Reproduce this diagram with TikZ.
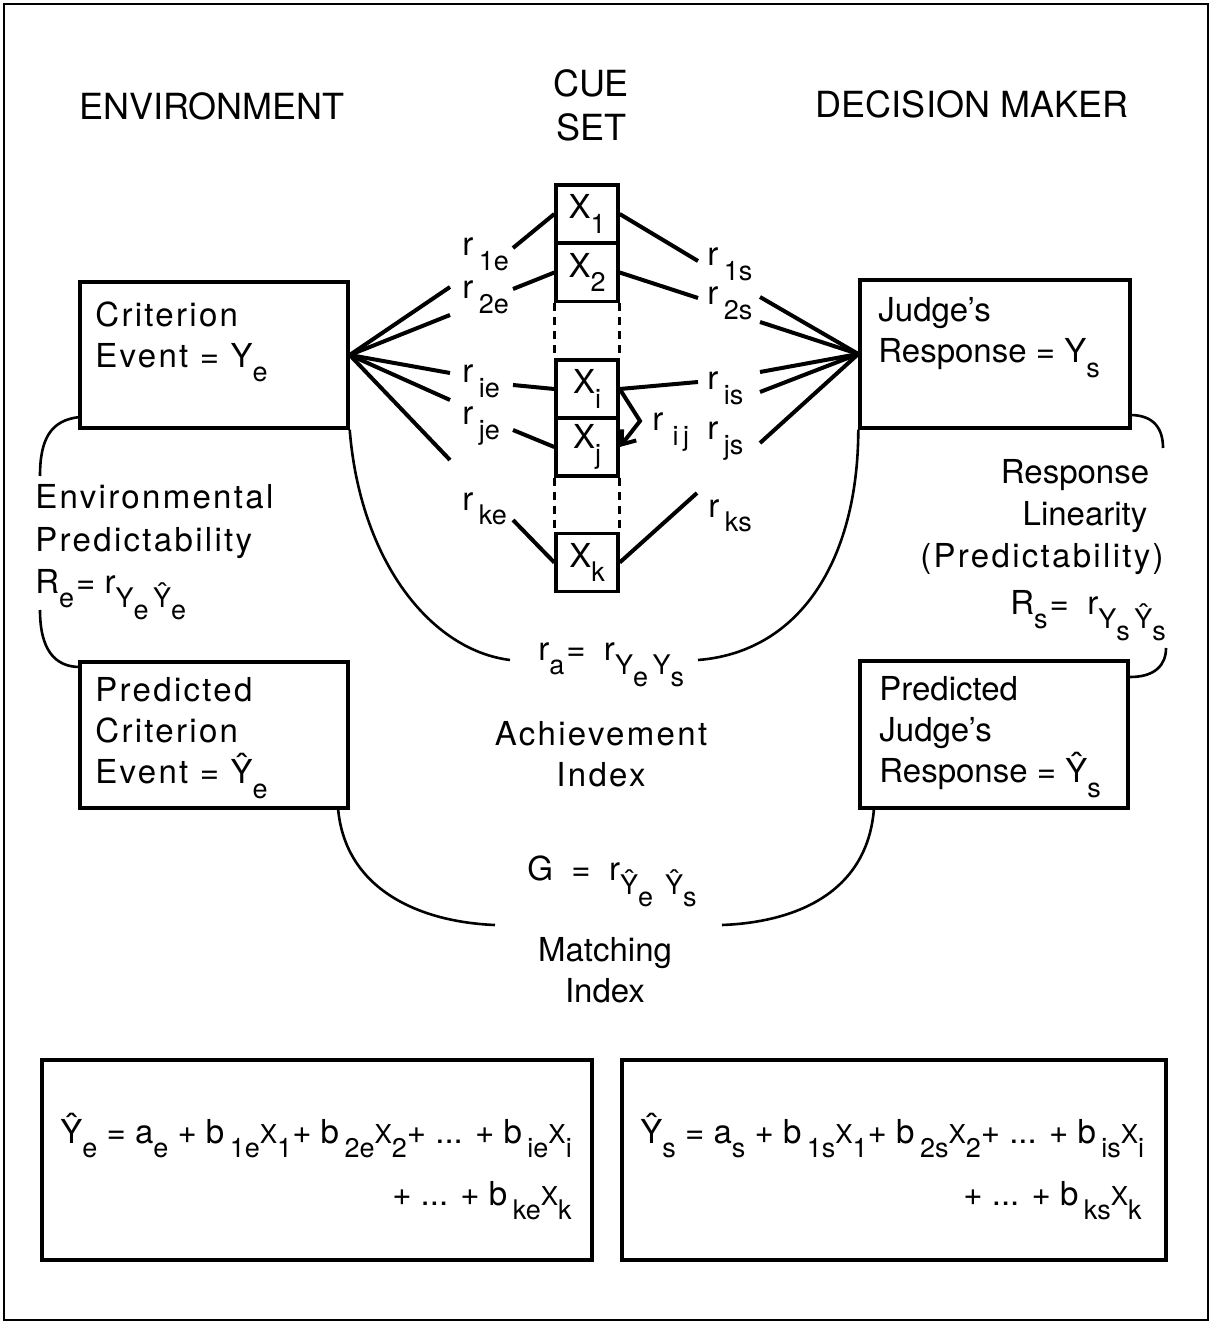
\documentclass[tikz,border=0pt]{standalone}
\usepackage{fontspec}
\setmainfont{TeX Gyre Heros}
\newfontfamily\widefont[LetterSpace=7]{TeX Gyre Heros}
\usetikzlibrary{arrows.meta}

\newcommand{\bigf}{\fontsize{16.5}{20.5}\selectfont}
\newcommand{\headf}{\fontsize{18}{22}\selectfont}
\newcommand{\lo}[1]{\raisebox{-0.85ex}{\fontsize{13.5}{13.5}\selectfont #1}}
\newcommand{\rsub}[1]{r\,\lo{#1}}
\newcommand{\sx}{{\fontsize{13}{13}\selectfont X}}

\begin{document}
\begin{tikzpicture}[x=0.5pt,y=-0.5pt,
  box/.style={draw, line width=1.7pt, inner sep=0pt},
  cuebox/.style={draw, line width=1.7pt, minimum width=31pt, minimum height=29pt, inner sep=0pt, font=\bigf},
  fan/.style={line width=2pt},
  arcline/.style={line width=1.3pt},
  lbl/.style={inner sep=0pt, font=\bigf, anchor=base west},
  head/.style={inner sep=0pt, font=\headf},
  txt/.style={inner sep=0pt, font=\bigf\widefont, align=left, anchor=north west},
]
\useasboundingbox (0,0) rectangle (1213,1325);
\node[draw, line width=1.1pt, minimum width=602pt, minimum height=658pt, inner sep=0pt] (frame) at (606,662) {};

% headings
\node[head] (env) at (212,106) {ENVIRONMENT};
\node[head, align=center] (cueset) at (591,105) {CUE\\SET};
\node[head] (dm) at (972,104) {DECISION MAKER};

% boxes
\node[box, minimum width=134pt, minimum height=73pt] (crit) at (214,355) {};
\node[txt] (crittext) at (95,301) {Criterion\\Event = Y\lo{e}};
\node[box, minimum width=135pt, minimum height=74pt] (judge) at (995,354) {};
\node[txt, font=\bigf] (judgetext) at (878,297) {Judge's\\Response = Y\lo{s}};
\node[box, minimum width=134pt, minimum height=73pt] (pcrit) at (214,735) {};
\node[txt] (pcrittext) at (95,677) {Predicted\\Criterion\\Event = Ŷ\lo{e}};
\node[box, minimum width=134pt, minimum height=73.5pt] (pjudge) at (994,734.5) {};
\node[txt, font=\bigf] (pjudgetext) at (879,676) {Predicted\\Judge's\\Response = Ŷ\lo{s}};

% cue set
\node[cuebox] (x1) at (587,214) {X\lo{1}};
\node[cuebox] (x2) at (587,272.5) {X\lo{2}};
\node[cuebox] (xi) at (587,389) {X\lo{i}};
\node[cuebox] (xj) at (587,447) {X\lo{j}};
\node[cuebox] (xk) at (587,562.5) {X\lo{k}};
\foreach \a/\b in {x2/xi,xj/xk}{
  \draw[line width=1.6pt, dash pattern=on 4pt off 3pt] (\a.south west) -- (\b.north west);
  \draw[line width=1.6pt, dash pattern=on 4pt off 3pt] (\a.south east) -- (\b.north east);
}

% lens labels
\node[lbl] (r1e) at (462,256) {\rsub{1e}};
\node[lbl] (r2e) at (462,299) {\rsub{2e}};
\node[lbl] (rie) at (462,383) {\rsub{ie}};
\node[lbl] (rje) at (462,425) {\rsub{je}};
\node[lbl] (rke) at (462,510) {\rsub{ke}};
\node[lbl] (r1s) at (707,266) {\rsub{1s}};
\node[lbl] (r2s) at (707,305) {\rsub{2s}};
\node[lbl] (ris) at (707,390) {\rsub{is}};
\node[lbl] (rjs) at (707,440) {\rsub{js}};
\node[lbl] (rks) at (708,517) {\rsub{ks}};
\node[lbl] (rij) at (652,431) {r\;\lo{i\,j}};

\coordinate (cl1) at (450,287);
\coordinate (cl2) at (450,315);
\coordinate (cl3) at (450,373);
\coordinate (cl4) at (450,400);
\coordinate (cl5) at (450,460);
\coordinate (jl1) at (760,297);
\coordinate (jl2) at (760,322);
\coordinate (jl3) at (760,372);
\coordinate (jl4) at (760,392);
\coordinate (jl5) at (760,443);
\foreach \n in {1,...,5}{
  \draw[fan] (crit.east) -- (cl\n);
  \draw[fan] (judge.west) -- (jl\n);
}

\coordinate (le1) at (513,248);
\coordinate (le2) at (513,289);
\coordinate (lei) at (513,385);
\coordinate (lej) at (513,430);
\coordinate (lek) at (513,520);
\coordinate (ls1) at (698,261);
\coordinate (ls2) at (698,298);
\coordinate (lsi) at (698,382);
\coordinate (lsk) at (697,493);
\foreach \n in {1,2,i,j,k}
  \draw[fan] (le\n) -- (x\n.west);
\foreach \n in {1,2,i,k}
  \draw[fan] (x\n.east) -- (ls\n);
\coordinate (ijtip) at (640,421);
\draw[fan, -{Straight Barb[length=6pt,width=9pt]}] (xi.east) -- (ijtip) -- (xj.east);

% achievement
\node[lbl] (ra) at (538,660) {r\lo{a}\kern1pt= \;r\lo{Y\lo{e}\,Y\lo{s}}};
\coordinate (ral) at (510,660);
\coordinate (rar) at (698,660);
\draw[arcline] (crit.south east) .. controls (360,560) and (430,650) .. (ral);
\draw[arcline] (rar) .. controls (800,652) and (858,560) .. (judge.south west);
\node[inner sep=0pt, font=\bigf\widefont, align=center] (ach) at (601,754) {Achievement\\Index};

% matching
\node[lbl] (gm) at (527,880) {G \;=\; r\lo{Ŷ\lo{e}\;\,Ŷ\lo{s}}};
\coordinate (gl) at (495,925);
\coordinate (gr) at (722,925);
\coordinate (pcb) at (338,808);
\coordinate (pjb) at (874,808);
\draw[arcline] (pcb) .. controls (345,890) and (420,922) .. (gl);
\draw[arcline] (gr) .. controls (800,922) and (868,890) .. (pjb);
\node[inner sep=0pt, font=\bigf, align=center] (match) at (605,970) {Matching\\Index};

% predictability, environment side
\coordinate (ea) at (80,417);
\coordinate (eb) at (40,476);
\coordinate (ec) at (40,610);
\coordinate (ed) at (80,667);
\draw[arcline] (ea) .. controls (50,420) and (40,440) .. (eb);
\draw[arcline] (ec) .. controls (40,650) and (55,667) .. (ed);
\node[lbl, font=\bigf\widefont] (envp1) at (35,509) {Environmental};
\node[lbl, font=\bigf\widefont] (envp2) at (35,551) {Predictability};
\node[lbl] (envp3) at (35,593) {R\lo{e}\kern1pt= r\lo{Y\lo{e}\,Ŷ\lo{e}}};

% predictability, judge side
\coordinate (sa) at (1130,415);
\coordinate (sb) at (1163,448);
\coordinate (sc) at (1166,648);
\coordinate (sd) at (1130,677);
\draw[arcline] (sa) .. controls (1155,415) and (1163,430) .. (sb);
\draw[arcline] (sc) .. controls (1166,665) and (1155,677) .. (sd);
\node[lbl, anchor=base] (resp1) at (1075,483) {Response};
\node[lbl, anchor=base] (resp2) at (1085,525) {Linearity};
\node[lbl, anchor=base, font=\bigf\widefont] (resp3) at (1042,567) {(Predictability)};
\node[lbl] (resp4) at (1010,614) {R\lo{s}\kern1pt= \;r\lo{Y\lo{s}\,Ŷ\lo{s}}};

% linear models
\node[box, minimum width=275pt, minimum height=100pt] (eqe) at (317,1160) {};
\node[lbl] (eqe1) at (60,1143) {Ŷ\lo{e} = a\lo{e} + b\,\lo{1e}\sx\lo{1}+ b\,\lo{2e}\sx\lo{2}+ ... + b\,\lo{ie}\sx\lo{i}};
\node[lbl, anchor=base east] (eqe2) at (572,1205) {+ ... + b\,\lo{ke}\sx\lo{k}};
\node[box, minimum width=272pt, minimum height=100pt] (eqs) at (894,1160) {};
\node[lbl] (eqs1) at (640,1143) {Ŷ\lo{s} = a\lo{s} + b\,\lo{1s}\sx\lo{1}+ b\,\lo{2s}\sx\lo{2}+ ... + b\,\lo{is}\sx\lo{i}};
\node[lbl, anchor=base east] (eqs2) at (1142,1205) {+ ... + b\,\lo{ks}\sx\lo{k}};
\end{tikzpicture}
\end{document}
